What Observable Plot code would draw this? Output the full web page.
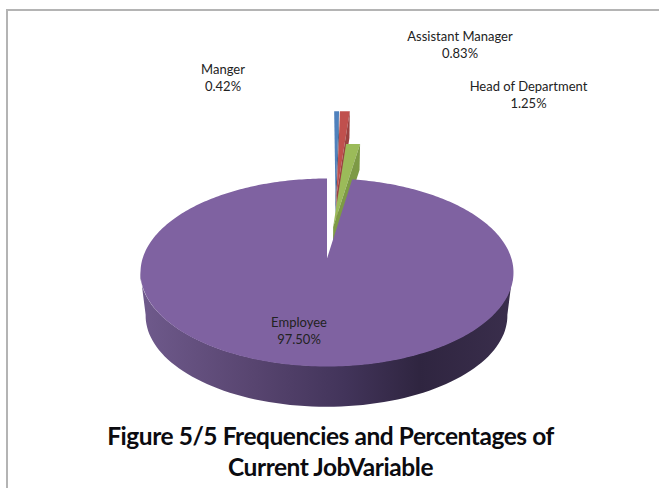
<!DOCTYPE html>
<html>
<head>
<meta charset="utf-8">
<script src="https://cdn.jsdelivr.net/npm/d3@7"></script>
<script src="https://cdn.jsdelivr.net/npm/@observablehq/plot@0.6"></script>
<style>
  html, body { margin: 0; background: #fff; }
  #page { position: relative; width: 659px; height: 488px; overflow: hidden; }
  #frame { position: absolute; left: 6px; top: 9px; right: -4px; bottom: -4px; border: 2px solid #b4b4b4; }
  #chart { position: absolute; left: 0; top: 0; }
  #title {
    position: absolute; left: 0; top: 420px; width: 661px; text-align: center;
    font: 700 24.5px/31px Lato, sans-serif; color: #0b0b10; letter-spacing: -0.45px;
  }
</style>
</head>
<body>
<div id="page">
  <div id="frame"></div>
  <div id="chart"></div>
  <div id="title">Figure 5/5 Frequencies and Percentages of<br>Current JobVariable</div>
</div>
<script>
// Job categories and their share of respondents, in pie order from twelve o'clock.
const categories = ["Manger", "Assistant Manager", "Head of Department", "Employee"];
const percentages = [0.42, 0.83, 1.25, 97.5];

// Slice appearance.
const topColors = ["#4f81bd", "#c0504d", "#9bbb59", "#7f62a1"];
const wallColors = ["#3a5f8c", "#9a4240", "#7d9a45", "#4b3b60"];

// How far each slice is pulled out of the pie, its radius and wall height,
// in units of the disc plane.
const pullAcross = [0.051, 0.057, 0.035, 0];
const pullBack = [0.763, 0.763, 0.36, 0];
const radii = [1.34, 1.34, 1.17, 1];
const wallHeight = [0.55, 0.55, 0.55, 1];

// Where the two-line labels sit.
const labelX = [222.5, 459.5, 528, 298.5];
const labelY = [76.5, 43.5, 93.5, 330];

// Tilted disc: a unit circle seen in perspective.
const cx = 326.5, cy = 258, sx = 184.4, sy = 91.9, tilt = 0.149, drop = 44, shrink = 0.03;
function project(u, v, level = 0) {
  const w = 1 - tilt * v, s = 1 - shrink * level;
  return { x: cx + s * sx * u / w, y: cy + drop * level + s * sy * v / w };
}
const rad = deg => deg * Math.PI / 180;
const onDisc = (i, deg, level = 0) =>
  project(pullAcross[i] + radii[i] * Math.sin(rad(deg)), -pullBack[i] - radii[i] * Math.cos(rad(deg)), level);
// The pulled-out slivers end in a straight outer edge rather than an arc.
const onEdge = (i, deg, level = 0) =>
  project(pullAcross[i] + radii[i] * Math.tan(rad(deg)), -pullBack[i] - radii[i], level);
const apex = (i, level = 0) => project(pullAcross[i], -pullBack[i], level);

// Start and end angle of each slice from the percentages.
const ends = d3.cumsum(percentages).map(p => p * 3.6);
const slices = categories.map((name, i) => ({ name, i, a0: i ? ends[i - 1] : 0, a1: ends[i] }));

const topFaces = [];
const sideFaces = [];
for (const { name, i, a0, a1 } of slices) {
  let outline;
  if (i < 3) {
    outline = [apex(i), onEdge(i, a0), onEdge(i, a1)];
    // Only the radial wall on the right-hand side of each sliver can be seen.
    const h = wallHeight[i];
    [onEdge(i, a1), apex(i), apex(i, h), onEdge(i, a1, h)]
      .forEach(p => sideFaces.push({ ...p, name, color: wallColors[i] }));
  } else {
    const n = Math.ceil(a1 - a0);
    outline = [apex(i), ...d3.range(n + 1).map(k => onDisc(i, a0 + (a1 - a0) * k / n))];
  }
  topFaces.push(...outline.map(p => ({ ...p, name, color: topColors[i] })));
}

// Rim of the large slice, running round the front between the disc's widest points.
const rim = d3.range(98, 263, 2).map(deg => {
  const t = onDisc(3, deg), b = onDisc(3, deg, wallHeight[3]);
  return { x1: t.x, y1: t.y, x2: b.x, y2: b.y };
});

const scaleOpts = { type: "linear", domain: [0, 659], range: [0, 659], axis: null };
const labels = categories.map((name, i) => ({
  text: `${name}\n${percentages[i].toFixed(2)}%`, x: labelX[i], y: labelY[i]
}));
const smallFaces = ["Manger", "Assistant Manager", "Head of Department"];

const face = (data, name) => Plot.line(data.filter(d => d.name === name), {
  x: "x", y: "y", fill: d => d.color, stroke: "none", curve: "linear-closed"
});

const gradient = () => {
  const defs = d3.create("svg:defs");
  const g = defs.append("linearGradient").attr("id", "rimShade");
  [[0, "#6f5a8c"], [0.3, "#584570"], [0.55, "#42345a"], [0.75, "#2f2540"], [1, "#3a2e4c"]]
    .forEach(([o, c]) => g.append("stop").attr("offset", o).attr("stop-color", c));
  return defs.node();
};

const plot = Plot.plot({
  width: 659, height: 488, margin: 0,
  x: scaleOpts, y: scaleOpts,
  style: { background: "transparent", fontFamily: "Lato, sans-serif" },
  marks: [
    gradient,
    ...smallFaces.flatMap(n => [face(topFaces, n), face(sideFaces, n)]),
    Plot.area(rim, { x1: "x1", y1: "y1", x2: "x2", y2: "y2", fill: "url(#rimShade)" }),
    face(topFaces, "Employee"),
    Plot.text(labels, {
      x: "x", y: "y", text: "text", fontSize: 13, lineHeight: 1.31, fill: "#222"
    })
  ]
});
document.getElementById("chart").append(plot);
</script>
</body>
</html>
